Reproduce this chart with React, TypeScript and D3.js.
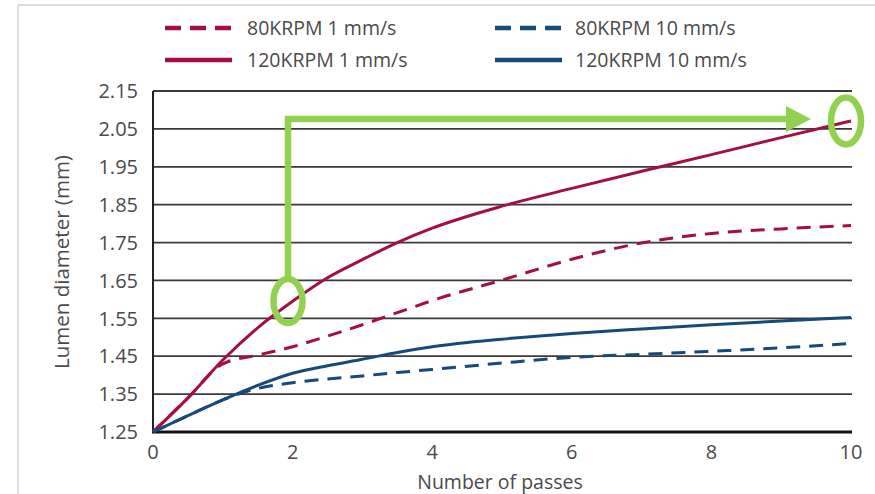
import React from "react";
import * as d3 from "d3";

const passes = [0, 0.5, 1, 1.5, 2, 2.5, 3, 3.5, 4, 5, 6, 7, 8, 9, 10];
const rpm80_1 = [1.25, 1.34, 1.43, 1.453, 1.475, 1.503, 1.533, 1.565, 1.597, 1.651, 1.706, 1.749, 1.774, 1.786, 1.795];
const rpm120_1 = [1.25, 1.34, 1.44, 1.525, 1.595, 1.657, 1.705, 1.75, 1.788, 1.846, 1.893, 1.938, 1.982, 2.027, 2.071];
const rpm80_10 = [1.25, 1.293, 1.335, 1.365, 1.38, 1.39, 1.398, 1.407, 1.415, 1.432, 1.447, 1.455, 1.463, 1.472, 1.484];
const rpm120_10 = [1.25, 1.293, 1.335, 1.373, 1.405, 1.425, 1.442, 1.46, 1.475, 1.495, 1.51, 1.522, 1.533, 1.543, 1.552];

const seriesNames = ["80KRPM 1 mm/s", "120KRPM 1 mm/s", "80KRPM 10 mm/s", "120KRPM 10 mm/s"];
const yTicks = [1.25, 1.35, 1.45, 1.55, 1.65, 1.75, 1.85, 1.95, 2.05, 2.15];
const xTicks = [0, 2, 4, 6, 8, 10];

const RED = "#a3103f";
const BLUE = "#17497a";
const GREEN = "#92d050";
const TXT = "#4a4a4a";
const FONT = "'Open Sans', Lato, sans-serif";

export default function App() {
  const x = d3.scaleLinear().domain([0, 10]).range([153, 851]);
  const y = d3.scaleLinear().domain([1.25, 2.15]).range([432, 91]);
  const line = d3
    .line<number>()
    .x((_, i) => x(passes[i]))
    .y((d) => y(d))
    .curve(d3.curveMonotoneX);

  const series = [
    { name: seriesNames[0], data: rpm80_1, color: RED, dash: "14,9" },
    { name: seriesNames[1], data: rpm120_1, color: RED, dash: null },
    { name: seriesNames[2], data: rpm80_10, color: BLUE, dash: "14,9" },
    { name: seriesNames[3], data: rpm120_10, color: BLUE, dash: null },
  ];
  const legendPos = [
    { lx: 165, tx: 247, y: 28 },
    { lx: 165, tx: 247, y: 60 },
    { lx: 495, tx: 575, y: 28 },
    { lx: 495, tx: 575, y: 60 },
  ];

  return (
    <svg width={875} height={494} style={{ position: "absolute", left: 0, top: 0, background: "#fff" }} fontFamily={FONT}>
      <rect x={0} y={0} width={875} height={494} fill="#fff" />
      {/* frame */}
      <line x1={18} x2={875} y1={5} y2={5} stroke="#dcdcdc" strokeWidth={2} />
      <line x1={18} x2={18} y1={5} y2={494} stroke="#dcdcdc" strokeWidth={2} />

      {/* legend */}
      {series.map((s, i) => (
        <g key={s.name}>
          <line
            x1={legendPos[i].lx}
            x2={legendPos[i].lx + 67}
            y1={legendPos[i].y}
            y2={legendPos[i].y}
            stroke={s.color}
            strokeWidth={4.5}
            strokeDasharray={s.dash ? "16,9" : undefined}
          />
          <text x={legendPos[i].tx} y={legendPos[i].y} dy="0.36em" fontSize={19.5} fill={TXT}>
            {s.name}
          </text>
        </g>
      ))}

      {/* gridlines */}
      {yTicks.slice(1).map((t) => (
        <line key={t} x1={x(0)} x2={852} y1={y(t)} y2={y(t)} stroke="#3a3a3a" strokeWidth={1.8} />
      ))}
      {/* axes */}
      <line x1={x(0)} x2={x(0)} y1={y(2.15)} y2={y(1.25)} stroke="#222" strokeWidth={2} />
      <line x1={x(0) - 1} x2={852} y1={y(1.25)} y2={y(1.25)} stroke="#111" strokeWidth={3} />

      {yTicks.map((t) => (
        <text key={t} x={138} y={y(t)} dy="0.36em" textAnchor="end" fontSize={20} fill={TXT}>
          {t.toFixed(2)}
        </text>
      ))}
      {xTicks.map((t) => (
        <text key={t} x={x(t)} y={452} dy="0.36em" textAnchor="middle" fontSize={20} fill={TXT}>
          {t}
        </text>
      ))}
      <text x={500} y={482} dy="0.36em" textAnchor="middle" fontSize={19.5} fill={TXT}>
        Number of passes
      </text>
      <text
        transform={`translate(62,262) rotate(-90)`}
        dy="0.36em"
        textAnchor="middle"
        fontSize={20.5}
        fill={TXT}
      >
        Lumen diameter (mm)
      </text>

      {/* series */}
      {series.map((s) => (
        <path
          key={s.name}
          d={line(s.data) || ""}
          fill="none"
          stroke={s.color}
          strokeWidth={3}
          strokeDasharray={s.dash || undefined}
        />
      ))}

      {/* annotation */}
      <g stroke={GREEN} fill="none" strokeWidth={6.5}>
        <polyline points="288,278 288,119 790,119" strokeLinejoin="miter" />
        <ellipse cx={288} cy={301} rx={14.5} ry={22} />
        <ellipse cx={846} cy={121} rx={15} ry={23.5} />
      </g>
      <polygon points="786,106 811,119 786,132" fill={GREEN} />
    </svg>
  );
}
